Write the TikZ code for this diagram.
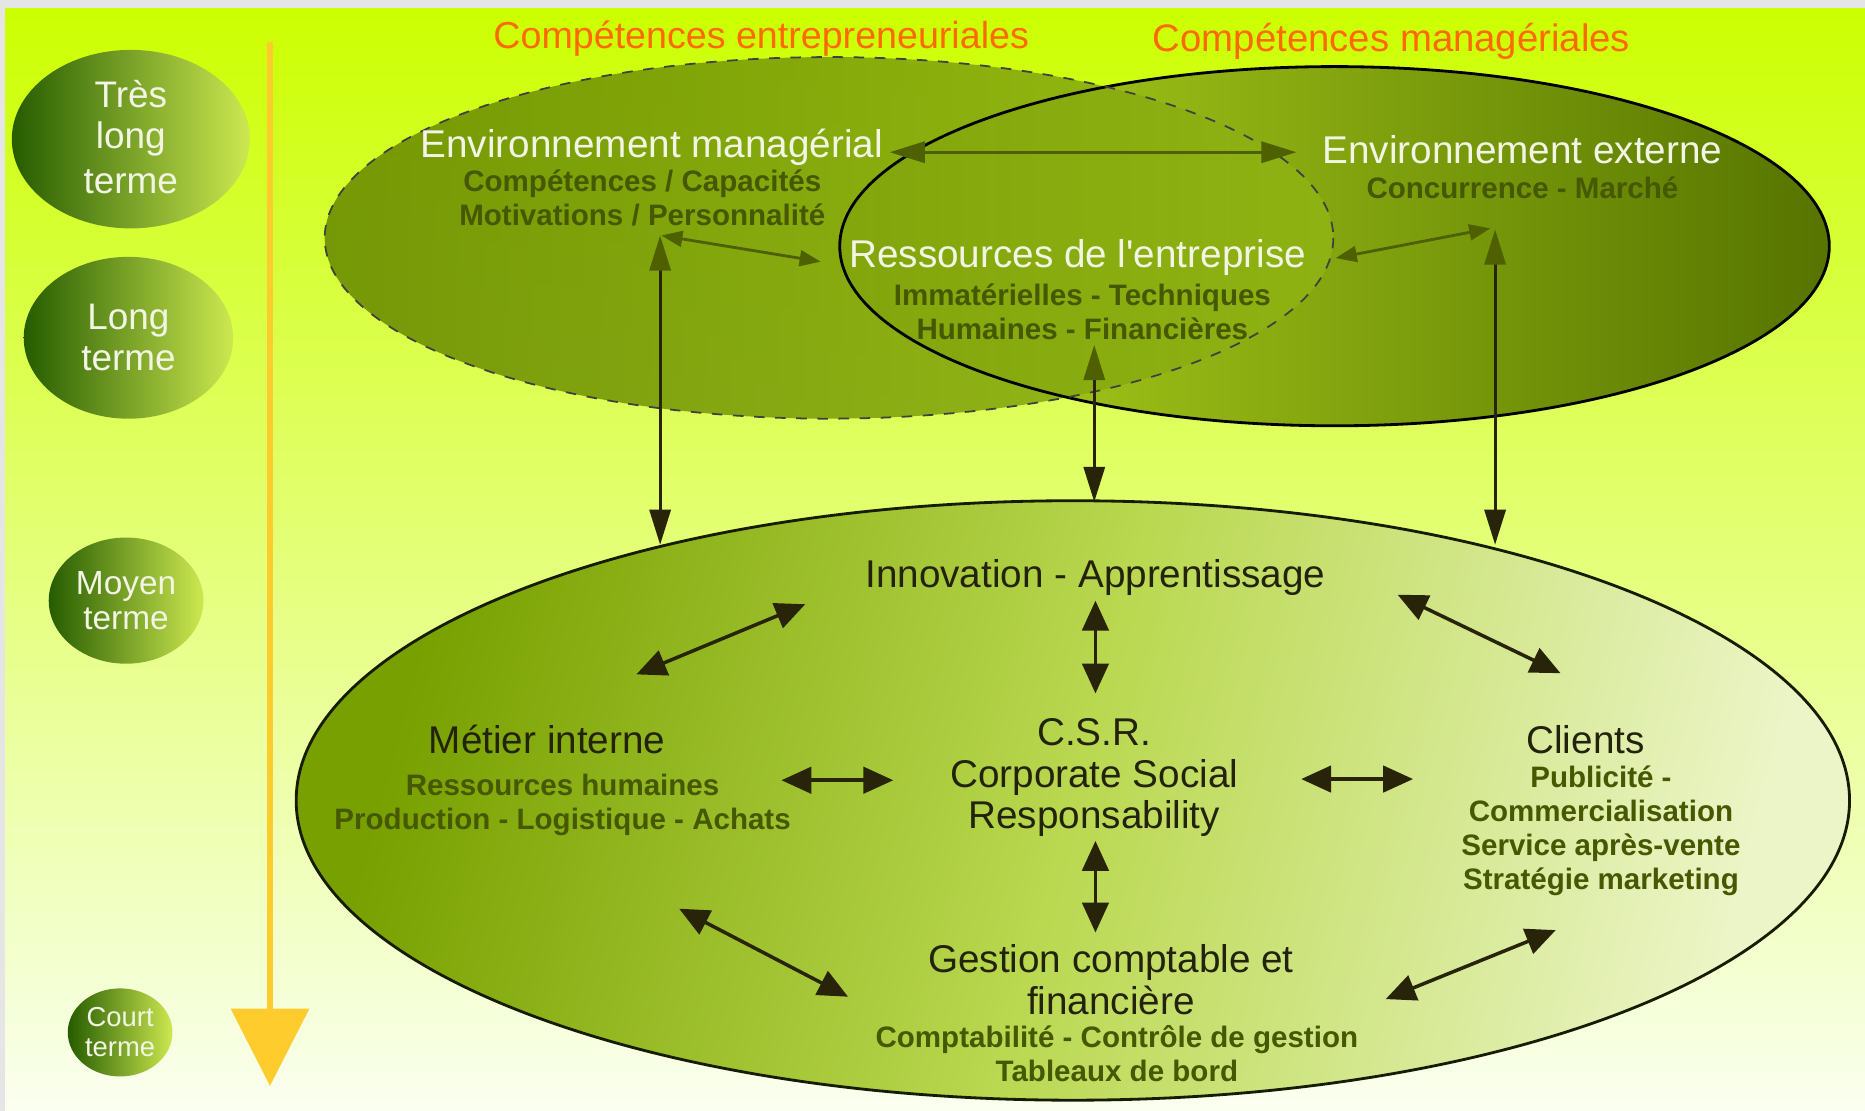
\documentclass[tikz,border=0pt]{standalone}
\usepackage{fontspec}
\setmainfont{Liberation Sans}
\usetikzlibrary{shapes.geometric,arrows.meta}
\newcommand\unitpx{0.3384pt}
\definecolor{bgtop}{RGB}{204,255,0}
\definecolor{bgmid}{RGB}{228,255,120}
\definecolor{bgbot}{RGB}{250,255,240}
\definecolor{darkleaf}{RGB}{38,92,0}
\definecolor{lightleaf}{RGB}{205,232,80}
\definecolor{olivea}{RGB}{104,138,0}
\definecolor{oliveb}{RGB}{145,180,20}
\definecolor{limea}{RGB}{178,214,30}
\definecolor{limeb}{RGB}{86,116,0}
\definecolor{greenc}{RGB}{120,160,0}
\definecolor{greenm}{RGB}{186,216,80}
\definecolor{greend}{RGB}{236,245,200}
\definecolor{paletext}{RGB}{242,245,228}
\definecolor{subtext}{RGB}{70,88,0}
\definecolor{headtext}{RGB}{35,35,12}
\definecolor{arrowtop}{RGB}{78,96,0}
\definecolor{arrowbot}{RGB}{40,36,10}
\definecolor{compcol}{RGB}{255,105,0}
\definecolor{timeline}{RGB}{255,204,45}
\begin{document}
\begin{tikzpicture}[x=0.011894cm,y=-0.011894cm,
    term/.style={ellipse,inner sep=0pt,left color=darkleaf,right color=lightleaf,text=paletext,align=center},
    head/.style={anchor=base,align=center,font=\fontsize{11}{11.8}\selectfont},
    sub/.style={anchor=base,align=center,text=subtext,font=\bfseries\fontsize{8.4}{9.64}\selectfont},
    toparr/.style={arrowbot,line width=0.9pt,{Triangle[length=10pt,width=6pt,color=arrowtop]}-{Triangle[length=10pt,width=6pt]}},
    smallarr/.style={arrowtop,line width=0.8pt,{Triangle[length=6pt,width=4.5pt]}-{Triangle[length=6pt,width=4.5pt]}},
    botarr/.style={arrowbot,line width=1pt,{Triangle[length=8.5pt,width=7.5pt]}-{Triangle[length=8.5pt,width=7.5pt]}}]
\shade[top color=bgtop,bottom color=bgbot,middle color=bgmid] (0,0) rectangle (1568,934);
\fill[black!10] (0,0) rectangle (1568,7);
\fill[black!10] (0,0) rectangle (4,934);

\coordinate (t0) at (227,35);
\coordinate (t1) at (227,913);
\draw[timeline,line width=1.7pt,-{Triangle[length=22pt,width=22pt]}] (t0) -- (t1);

\node[term,minimum width=200*\unitpx,minimum height=150*\unitpx,font=\fontsize{10.5}{11.6}\selectfont] (tres) at (110,117) {\raisebox{1.3pt}{\shortstack{Très\\[1pt]long\\[1pt]terme}}};
\node[term,minimum width=176*\unitpx,minimum height=136*\unitpx,font=\fontsize{10.5}{11.6}\selectfont] (long) at (108,284) {Long\\terme};
\node[term,minimum width=130*\unitpx,minimum height=106*\unitpx,font=\fontsize{9.5}{10.2}\selectfont] (moyen) at (106,505) {Moyen\\terme};
\node[term,minimum width=88*\unitpx,minimum height=74*\unitpx,font=\fontsize{7.8}{8.5}\selectfont] (court) at (101,868) {Court\\terme};

\node[anchor=base,text=compcol,font=\fontsize{10.7}{12}\selectfont] (entre) at (640,41) {Compétences entrepreneuriales};
\node[anchor=base,text=compcol,font=\fontsize{10.9}{12}\selectfont] (manag) at (1170,43) {Compétences managériales};

\shade[left color=limea,right color=limeb] (1122,207) ellipse [x radius=416,y radius=151];
\shade[left color=olivea,right color=oliveb,opacity=0.88] (697,200) ellipse [x radius=424,y radius=152];
\draw[black,line width=0.8pt] (1122,207) ellipse [x radius=416,y radius=151];
\draw[black!75,dashed,line width=0.5pt] (697,200) ellipse [x radius=424,y radius=152];

\node[head,text=paletext] (envman) at (548,132.6) {Environnement managérial};
\node[sub] (envmansub) at (540,189.5) {Compétences / Capacités\\Motivations / Personnalité};
\node[head,text=paletext] (envext) at (1280,137.6) {Environnement externe};
\node[sub] (envextsub) at (1280,166.5) {Concurrence - Marché};
\node[head,text=paletext] (ress) at (906,224.6) {Ressources de l\textquotesingle entreprise};
\node[sub] (resssub) at (910,285.5) {Immatérielles - Techniques\\Humaines - Financières};

\coordinate (hz0) at (748,128); \coordinate (hz1) at (1090,128);
\coordinate (dl0) at (556,198); \coordinate (dl1) at (690,220);
\coordinate (dr0) at (1123,217); \coordinate (dr1) at (1253,192);
\coordinate (va0) at (555,198); \coordinate (va1) at (555,458);
\coordinate (vb0) at (920,290); \coordinate (vb1) at (920,422);
\coordinate (vc0) at (1257,193); \coordinate (vc1) at (1257,458);
\draw[toparr,arrowtop,{Triangle[length=10pt,width=6pt]}-{Triangle[length=10pt,width=6pt]}] (hz0) -- (hz1);
\draw[smallarr] (dl0) -- (dl1);
\draw[smallarr] (dr0) -- (dr1);

\shade[left color=greenc,right color=greend,middle color=greenm,shading angle=75] (902,673) ellipse [x radius=653,y radius=252];
\draw[black!80!olivea,line width=0.8pt] (902,673) ellipse [x radius=653,y radius=252];

\draw[toparr] (va0) -- (va1);
\draw[toparr] (vb0) -- (vb1);
\draw[toparr] (vc0) -- (vc1);

\node[head,text=headtext] (innov) at (921,493.6) {Innovation - Apprentissage};
\node[head,text=headtext] (metier) at (460,633.6) {Métier interne};
\node[sub] (metiersub) at (473,697.5) {Ressources humaines\\Production - Logistique - Achats};
\node[head,text=headtext] (csr) at (920,696.6) {C.S.R.\\Corporate Social\\Responsability};
\node[head,text=headtext] (clients) at (1333,633.6) {Clients};
\node[sub] (clientssub) at (1346,747.5) {Publicité -\\Commercialisation\\Service après-vente\\Stratégie marketing};
\node[head,text=headtext] (gestion) at (934,852.6) {Gestion comptable et\\financière};
\node[sub] (gestionsub) at (939,909.5) {Comptabilité - Contrôle de gestion\\Tableaux de bord};

\coordinate (a0) at (535,567); \coordinate (a1) at (677,508);
\coordinate (b0) at (921,505); \coordinate (b1) at (921,583);
\coordinate (c0) at (1175,500); \coordinate (c1) at (1312,566);
\coordinate (d0) at (657,656); \coordinate (d1) at (751,656);
\coordinate (e0) at (1094,655); \coordinate (e1) at (1188,655);
\coordinate (f0) at (921,707); \coordinate (f1) at (921,784);
\coordinate (g0) at (571,764); \coordinate (g1) at (713,838);
\coordinate (h0) at (1165,840); \coordinate (h1) at (1308,782);
\foreach \p/\q in {a0/a1,b0/b1,c0/c1,d0/d1,e0/e1,f0/f1,g0/g1,h0/h1}
  \draw[botarr] (\p) -- (\q);
\end{tikzpicture}
\end{document}
